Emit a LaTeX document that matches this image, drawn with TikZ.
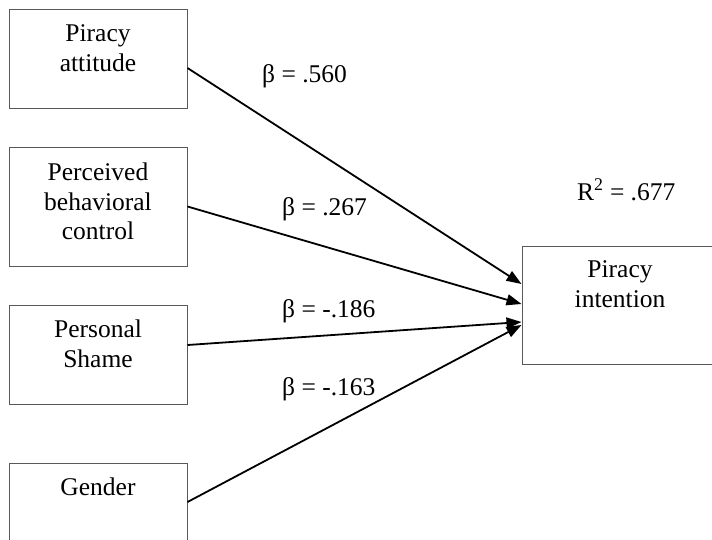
\documentclass[tikz,border=0pt]{standalone}
\usepackage{fontspec}
\setmainfont{Liberation Serif}
\usetikzlibrary{arrows.meta}

\tikzset{
  varbox/.style={draw=black!65, line width=1pt, rectangle, inner sep=0pt},
  boxtext/.style={anchor=north, align=center, inner sep=0pt,
    font=\fontsize{25.5}{29.5}\selectfont},
  coef/.style={anchor=base west, inner sep=0pt,
    font=\fontsize{25.5}{29.5}\selectfont},
  path/.style={line width=1.8pt, -{Triangle[length=15pt,width=11pt]}, shorten >=0pt}
}

\begin{document}
\begin{tikzpicture}[x=1pt,y=-1pt]
  \useasboundingbox (0,0) rectangle (712,539);
  \clip (0,0) rectangle (712,539);

  % predictor boxes
  \node[varbox, minimum width=178pt, minimum height=99pt] (att) at (98,58.5) {};
  \node[varbox, minimum width=178pt, minimum height=119pt] (pbc) at (98,206.5) {};
  \node[varbox, minimum width=178pt, minimum height=99pt] (shame) at (98,354.5) {};
  \node[varbox, minimum width=178pt, minimum height=99pt] (gender) at (98,512.5) {};
  % outcome box
  \node[varbox, minimum width=196pt, minimum height=118pt] (int) at (620,305) {};

  % box labels
  \node[boxtext] (attT) at (98,24.7) {Piracy\\attitude};
  \node[boxtext] (pbcT) at (98,162.7) {Perceived\\behavioral\\control};
  \node[boxtext] (shameT) at (98,319.7) {Personal\\Shame};
  \node[boxtext] (genderT) at (98,477.7) {Gender};
  \node[boxtext] (intT) at (620,260.7) {Piracy\\intention};

  % paths
  \draw[path] ([yshift=-9.5pt]att.east) -- ([yshift=21pt]int.west);
  \draw[path] (pbc.east) -- ([yshift=1pt]int.west);
  \draw[path] ([yshift=9.5pt]shame.east) -- ([yshift=-17pt]int.west);
  \draw[path] ([yshift=10.5pt]gender.east) -- ([yshift=-20pt]int.west);

  % coefficients
  \node[coef] (b1) at (262,82) {β = .560};
  \node[coef] (b2) at (282,215) {β = .267};
  \node[coef] (b3) at (282,317) {β = -.186};
  \node[coef] (b4) at (282,395) {β = -.163};
  \node[coef] (r2) at (577,200) {R\textsuperscript{2} = .677};
\end{tikzpicture}
\end{document}
